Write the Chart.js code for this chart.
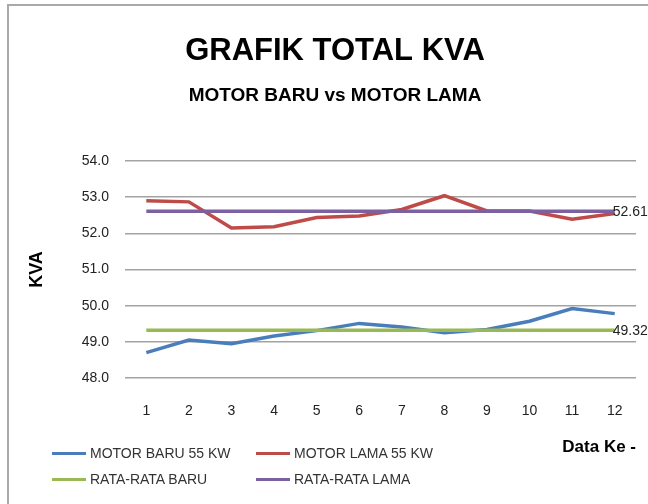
<!DOCTYPE html>
<html>
<head>
<meta charset="utf-8">
<script src="https://cdn.jsdelivr.net/npm/chart.js@4/dist/chart.umd.min.js"></script>
<style>
  html, body { margin: 0; padding: 0; background: #fff; }
  #wrap { position: relative; width: 648px; height: 504px; overflow: hidden; }
  #frame { position: absolute; left: 7px; top: 4px; width: 700px; height: 600px; border: 2px solid #a9a9a9; }
  #grafik { position: absolute; left: 0; top: 0; }
  .leg { position: absolute; font: 14px "Liberation Sans", Arial, sans-serif; color: #333; white-space: nowrap; }
  .leg i { display: inline-block; width: 34px; height: 3px; vertical-align: middle; margin-right: 4px; position: relative; top: -1px; }
</style>
</head>
<body>
<div id="wrap">
  <div id="frame"></div>
  <canvas id="grafik" width="648" height="504"></canvas>
  <div id="legenda"></div>
</div>
<script>
// data dari grafik
var dataKe = ['1','2','3','4','5','6','7','8','9','10','11','12'];
var motorBaru = [48.70, 49.05, 48.95, 49.16, 49.31, 49.51, 49.41, 49.25, 49.34, 49.57, 49.92, 49.78];
var motorLama = [52.90, 52.87, 52.15, 52.18, 52.44, 52.48, 52.66, 53.04, 52.62, 52.62, 52.39, 52.55];
var rataBaru = [49.32, 49.32, 49.32, 49.32, 49.32, 49.32, 49.32, 49.32, 49.32, 49.32, 49.32, 49.32];
var rataLama = [52.61, 52.61, 52.61, 52.61, 52.61, 52.61, 52.61, 52.61, 52.61, 52.61, 52.61, 52.61];
var ticksY = [48, 49, 50, 51, 52, 53, 54];

var warna = {
    baru: '#4a7ebb',
    lama: '#be4b48',
    rBaru: '#98b954',
    rLama: '#7d60a0'
};

var fontBiasa = "'Liberation Sans', Arial, sans-serif";

// label nilai di titik terakhir garis rata-rata
var labelAkhir = {
    id: 'labelAkhir',
    afterDatasetsDraw: function(chart){
        var ctx = chart.ctx;
        chart.data.datasets.forEach(function(ds, i){
            if(!ds.labelAkhir) return;
            var meta = chart.getDatasetMeta(i);
            var n = meta.data.length - 1;
            var titik = meta.data[n];
            ctx.save();
            ctx.font = '14px ' + fontBiasa;
            ctx.fillStyle = '#222';
            ctx.textAlign = 'left';
            ctx.textBaseline = 'middle';
            ctx.fillText(ds.data[n].toFixed(2), titik.x - 2, titik.y + 1);
            ctx.restore();
        });
    }
};

var grafik = new Chart(document.getElementById('grafik').getContext('2d'), {
    type: 'line',
    data: {
        labels: dataKe,
        datasets: [{
            label: 'MOTOR BARU 55 KW',
            data: motorBaru,
            borderColor: warna.baru,
            backgroundColor: warna.baru,
            order: 1
        },{
            label: 'MOTOR LAMA 55 KW',
            data: motorLama,
            borderColor: warna.lama,
            backgroundColor: warna.lama,
            order: 1
        },{
            label: 'RATA-RATA BARU',
            data: rataBaru,
            borderColor: warna.rBaru,
            backgroundColor: warna.rBaru,
            labelAkhir: true,
            order: 0
        },{
            label: 'RATA-RATA LAMA',
            data: rataLama,
            borderColor: warna.rLama,
            backgroundColor: warna.rLama,
            labelAkhir: true,
            order: 0
        }]
    },
    options: {
        responsive: false,
        animation: false,
        layout: { padding: { top: 0, left: 34, right: 12, bottom: 46 } },
        elements: {
            line: { borderWidth: 3.5, tension: 0, fill: false },
            point: { radius: 0 }
        },
        plugins: {
            legend: { display: false },
            tooltip: { enabled: false },
            title: {
                display: true,
                text: 'GRAFIK TOTAL KVA',
                color: '#000',
                font: { family: fontBiasa, size: 31, weight: 'bold' },
                padding: { top: 33, bottom: 8 }
            },
            subtitle: {
                display: true,
                text: 'MOTOR BARU vs MOTOR LAMA',
                color: '#000',
                font: { family: fontBiasa, size: 19, weight: 'bold' },
                padding: { top: 6, bottom: 54 }
            }
        },
        scales: {
            x: {
                offset: true,
                afterFit: function(s){ s.height = 80; },
                grid: { display: false },
                border: { display: false },
                ticks: { color: '#222', font: { family: fontBiasa, size: 14 }, padding: 17, maxRotation: 0 },
                title: {
                    display: true,
                    text: 'Data Ke -',
                    align: 'end',
                    color: '#000',
                    font: { family: fontBiasa, size: 17, weight: 'bold' },
                    padding: { top: 17, bottom: 0 }
                }
            },
            y: {
                min: ticksY[0],
                max: ticksY[ticksY.length - 1],
                afterFit: function(s){ s.width = 91; },
                afterBuildTicks: function(s){ s.ticks = ticksY.map(function(v){ return {value: v}; }); },
                grid: { color: '#a3a3a3', lineWidth: 1.5, drawTicks: false },
                border: { display: false },
                ticks: {
                    color: '#222',
                    font: { family: fontBiasa, size: 14 },
                    padding: 16,
                    callback: function(v){ return Number(v).toFixed(1); }
                },
                title: {
                    display: true,
                    text: 'KVA',
                    color: '#000',
                    font: { family: fontBiasa, size: 18, weight: 'bold' },
                    padding: { top: -8, bottom: 0 }
                }
            }
        }
    },
    plugins: [labelAkhir]
});

// legenda 2 kolom seperti di gambar asli
var posisiLegenda = [[52, 445], [256, 445], [52, 471], [256, 471]];
var legenda = document.getElementById('legenda');
grafik.data.datasets.forEach(function(ds, i){
    var el = document.createElement('div');
    el.className = 'leg';
    el.style.left = posisiLegenda[i][0] + 'px';
    el.style.top = posisiLegenda[i][1] + 'px';
    var garis = document.createElement('i');
    garis.style.background = ds.borderColor;
    el.appendChild(garis);
    el.appendChild(document.createTextNode(ds.label));
    legenda.appendChild(el);
});
</script>
</body>
</html>
